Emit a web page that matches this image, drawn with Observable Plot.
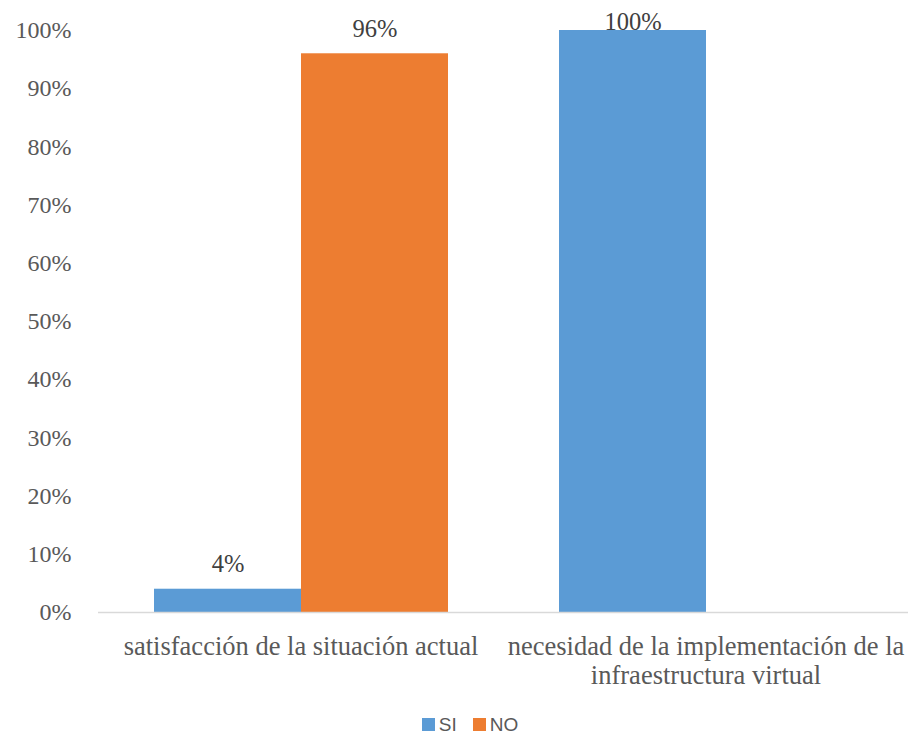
<!DOCTYPE html>
<html>
<head>
<meta charset="utf-8">
<script src="https://cdn.jsdelivr.net/npm/d3@7"></script>
<script src="https://cdn.jsdelivr.net/npm/@observablehq/plot@0.6"></script>
<style>
  html, body { margin: 0; padding: 0; background: #fff; }
  #chart { width: 913px; }
  #chart svg { font-family: "Liberation Serif", "Times New Roman", serif !important; font-size: 24px !important; color: #595959; background: #fff; }
  #chart svg text { font-family: "Liberation Serif", "Times New Roman", serif !important; }
  .legend { width: 913px; box-sizing: border-box; padding-left: 27px; display: flex; justify-content: center; align-items: center; gap: 16px; font-family: "Liberation Sans", Arial, sans-serif; font-size: 19px; color: #595959; height: 29px; }
  .legend span.item { display: flex; align-items: center; gap: 4px; }
  .legend span.sw { display: inline-block; width: 13px; height: 13px; }
</style>
</head>
<body>
<div id="chart"></div>
<script>
const categories = ["satisfacción de la situación actual", "necesidad de la implementación de la infraestructura virtual"];
const categoryLabels = ["satisfacción de la situación actual", "necesidad de la implementación de la\ninfraestructura virtual"];
const series = ["SI", "NO"];
const siValues = [0.04, 1.00];
const noValues = [0.96, 0.00];
const colors = ["#5B9BD5", "#ED7D31"];
const yTicks = [0, 0.1, 0.2, 0.3, 0.4, 0.5, 0.6, 0.7, 0.8, 0.9, 1.0];

const rows = [];
categories.forEach((c, i) => {
  rows.push({category: c, series: "SI", value: siValues[i]});
  rows.push({category: c, series: "NO", value: noValues[i]});
});
const fmt = d3.format(".0%");

const chart = Plot.plot({
  width: 913,
  height: 710,
  marginTop: 30,
  marginBottom: 98,
  marginLeft: 97,
  marginRight: 5,
  fx: {domain: categories, padding: 0, axis: null},
  x: {domain: series, paddingInner: 0, paddingOuter: 0.3746, axis: null},
  y: {domain: [0, 1], ticks: yTicks, tickFormat: fmt, tickSize: 0, tickPadding: 27, label: null},
  color: {domain: series, range: colors},
  marks: [
    Plot.barY(rows, {fx: "category", x: "series", y: "value", fill: "series", inset: 0}),
    Plot.ruleY([0], {stroke: "#d9d9d9", strokeWidth: 1.5}),
    Plot.text(rows.filter(d => d.value > 0 && d.value < 1), {fx: "category", x: "series", y: "value", text: d => fmt(d.value), dy: -25, fill: "#404040", fontSize: 24.5}),
    Plot.text(rows.filter(d => d.value >= 1), {fx: "category", x: "series", y: "value", text: d => fmt(d.value), dy: -8, fill: "#404040", fontSize: 24.5}),
    Plot.text(categories, {fx: d => d, text: (d, i) => categoryLabels[i], frameAnchor: "bottom", lineAnchor: "top", dy: 22, lineHeight: 1.1, fill: "#595959", fontSize: 26.5})
  ]
});
document.getElementById("chart").appendChild(chart);

const legend = document.createElement("div");
legend.className = "legend";
series.forEach((s, i) => {
  const item = document.createElement("span");
  item.className = "item";
  const sw = document.createElement("span");
  sw.className = "sw";
  sw.style.background = colors[i];
  const t = document.createElement("span");
  t.textContent = s;
  item.appendChild(sw);
  item.appendChild(t);
  legend.appendChild(item);
});
document.body.appendChild(legend);
</script>
</body>
</html>
